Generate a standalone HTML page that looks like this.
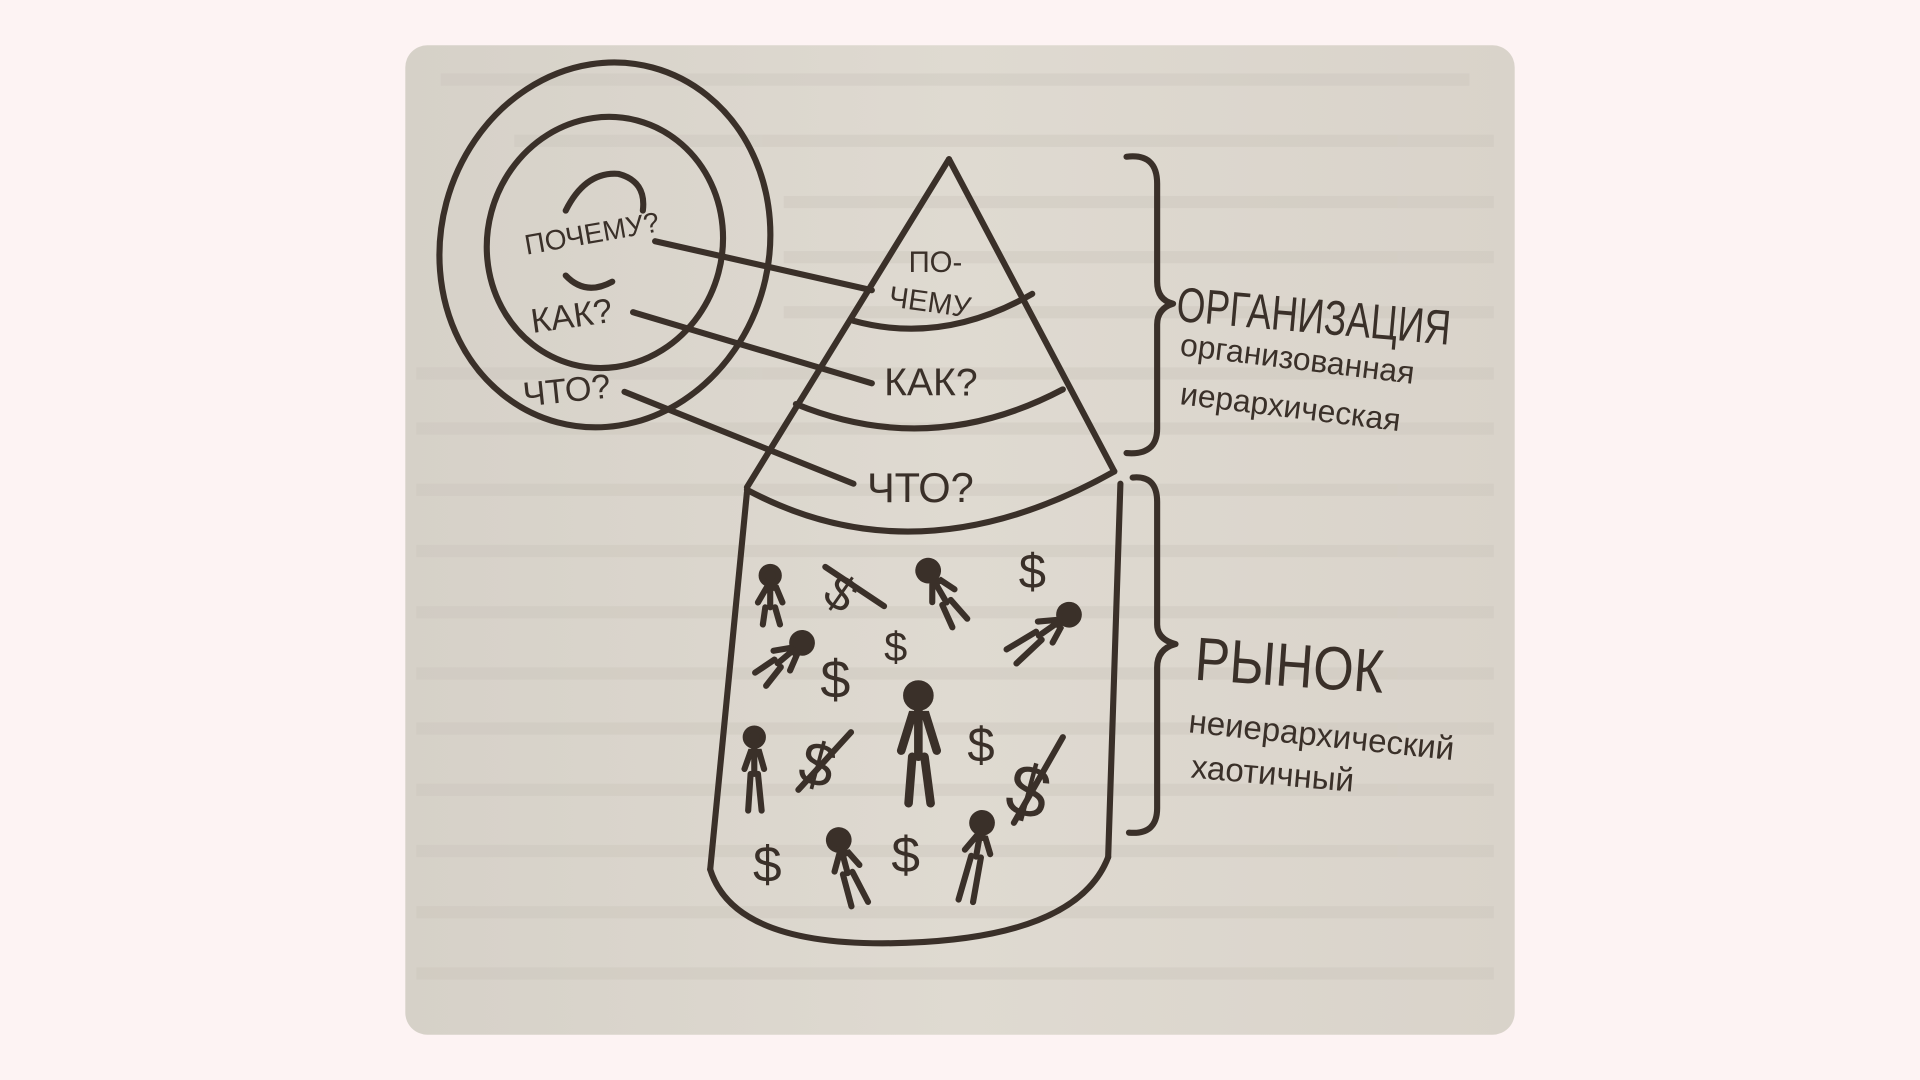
<!DOCTYPE html>
<html><head><meta charset="utf-8"><style>
html,body{margin:0;padding:0;width:1920px;height:1080px;overflow:hidden;background:#fdf3f3}
svg{display:block}
text{font-family:"Liberation Sans","DejaVu Sans",sans-serif;fill:#3a3029}
</style></head><body>
<svg width="1920" height="1080" viewBox="0 0 1568 882" preserveAspectRatio="none" xmlns="http://www.w3.org/2000/svg">
<defs>
<linearGradient id="pg" x1="0" y1="0" x2="1" y2="0">
<stop offset="0" stop-color="#d6d1c8"/><stop offset="0.5" stop-color="#dfdad1"/><stop offset="1" stop-color="#d9d3ca"/>
</linearGradient>
<clipPath id="cc"><rect x="331" y="37" width="906" height="808" rx="18"/></clipPath>
</defs>
<rect x="331" y="37" width="906" height="808" rx="18" fill="url(#pg)"/>
<g clip-path="url(#cc)" fill="#c9c3b9" opacity="0.35">
<rect x="360" y="60" width="840" height="10"/>
<rect x="420" y="110" width="800" height="10"/>
<rect x="640" y="160" width="580" height="10"/>
<rect x="640" y="205" width="580" height="10"/>
<rect x="640" y="250" width="580" height="10"/>
<rect x="340" y="300" width="880" height="10"/>
<rect x="340" y="345" width="880" height="10"/>
<rect x="340" y="395" width="880" height="10"/>
<rect x="340" y="445" width="880" height="10"/>
<rect x="340" y="495" width="880" height="10"/>
<rect x="340" y="545" width="880" height="10"/>
<rect x="340" y="590" width="880" height="10"/>
<rect x="340" y="640" width="880" height="10"/>
<rect x="340" y="690" width="880" height="10"/>
<rect x="340" y="740" width="880" height="10"/>
<rect x="340" y="790" width="880" height="10"/>
</g>
<g fill="none" stroke="#3a3029" stroke-width="5" stroke-linecap="round" stroke-linejoin="round">
<ellipse cx="494" cy="200" rx="134" ry="150" transform="rotate(15 494 200)"/>
<ellipse cx="494" cy="198" rx="96" ry="103" transform="rotate(15 494 198)"/>
<path d="M462 172 Q478 140 505 142 Q528 148 525 172"/>
<path d="M462 225 Q478 242 500 230"/>
<path d="M535 197 L712 237"/>
<path d="M517 255 L712 313"/>
<path d="M510 320 L697 395"/>
<path d="M775 130 L610 398"/>
<path d="M775 130 L910 385"/>
<path d="M697 262 Q770 282 843 240"/>
<path d="M650 330 Q760 375 868 318"/>
<path d="M610 400 Q750 475 910 385"/>
<path d="M610 402 L580 710"/>
<path d="M915 395 L905 700"/>
<path d="M580 710 Q600 775 740 770 Q880 765 905 700"/>
<path d="M920 128 Q945 125 945 150 L945 230 Q945 245 958 248 Q945 252 945 265 L945 350 Q945 372 920 370"/>
<path d="M925 390 Q945 388 945 410 L945 510 Q945 522 960 526 Q945 530 945 545 L945 660 Q945 682 922 680"/>
</g>
<g font-size="26">
<text x="430" y="208" transform="rotate(-10 430 208)" font-size="23">ПОЧЕМУ?</text>
<text x="435" y="272" transform="rotate(-8 435 272)" font-size="28">КАК?</text>
<text x="428" y="332" transform="rotate(-6 428 332)" font-size="28">ЧТО?</text>
<text x="742" y="222" font-size="24">ПО-</text>
<text x="725" y="250" transform="rotate(8 725 250)" font-size="24">ЧЕМУ</text>
<text x="722" y="323" font-size="32">КАК?</text>
<text x="708" y="410" font-size="34">ЧТО?</text>
<text x="960" y="262" font-size="40" transform="rotate(5 960 262) scale(0.75 1) translate(320 0)">ОРГАНИЗАЦИЯ</text>
<text x="963" y="290" font-size="26" transform="rotate(7 963 290)">организованная</text>
<text x="963" y="330" font-size="26" transform="rotate(7 963 330)">иерархическая</text>
<text x="975" y="555" font-size="50" transform="rotate(4 975 555) scale(0.85 1) translate(172 0)">РЫНОК</text>
<text x="970" y="598" font-size="27" transform="rotate(6 970 598)">неиерархический</text>
<text x="972" y="635" font-size="27" transform="rotate(5 972 635)">хаотичный</text>
</g>
<g font-size="40" font-family="Liberation Sans">
<text x="676" y="500" transform="rotate(35 690 485)">$</text>
<text x="832" y="480">$</text>
<text x="722" y="540" font-size="34">$</text>
<text x="670" y="570" font-size="44">$</text>
<text x="790" y="622" font-size="40">$</text>
<text x="655" y="642" font-size="50" transform="rotate(15 670 620)">$</text>
<text x="825" y="668" font-size="60" transform="rotate(15 845 640)">$</text>
<text x="615" y="720" font-size="42">$</text>
<text x="728" y="712" font-size="42">$</text>
</g>
<g stroke="#3a3029" stroke-width="5" stroke-linecap="round" fill="none">
<g transform="translate(629 470)"><circle r="7" fill="#3a3029"/><path d="M0 8 L0 26 M-10 22 L-3 10 L5 10 L10 22 M-4 26 L-6 40 M4 26 L8 40"/></g>
<g transform="translate(758 466) rotate(-30)"><circle r="8" fill="#3a3029"/><path d="M0 9 L0 30 M-10 24 L-3 12 L5 12 L11 24 M-4 30 L-6 50 M4 30 L8 50"/></g>
<g transform="translate(873 502) rotate(55)"><circle r="8" fill="#3a3029"/><path d="M0 9 L0 30 M-10 24 L-3 12 L5 12 L11 24 M-4 30 L-6 58 M4 30 L8 58"/></g>
<g transform="translate(655 525) rotate(50)"><circle r="8" fill="#3a3029"/><path d="M0 9 L0 26 M-10 22 L-3 10 L5 10 L11 22 M-4 26 L-6 45 M4 26 L8 45"/></g>
<g transform="translate(750 568)"><circle r="10" fill="#3a3029"/><path d="M0 12 L0 50 M-14 45 L-5 16 L6 16 L15 45 M-5 50 L-8 88 M5 50 L10 88" stroke-width="7"/></g>
<g transform="translate(616 602)"><circle r="7" fill="#3a3029"/><path d="M0 8 L0 30 M-8 26 L-3 12 L4 12 L8 26 M-3 30 L-5 60 M3 30 L6 60"/></g>
<g transform="translate(685 686) rotate(-15)"><circle r="8" fill="#3a3029"/><path d="M0 9 L0 28 M-10 24 L-3 12 L5 12 L11 24 M-4 28 L-4 55 M4 28 L10 55"/></g>
<g transform="translate(802 672) rotate(10)"><circle r="8" fill="#3a3029"/><path d="M0 9 L0 28 M-10 24 L-3 12 L5 12 L11 24 M-4 28 L-8 65 M4 28 L4 65"/></g>
<path d="M674 463 L722 495"/>
<path d="M652 645 L695 598"/>
<path d="M828 672 L868 602"/>
</g>
</svg>
</body></html>
